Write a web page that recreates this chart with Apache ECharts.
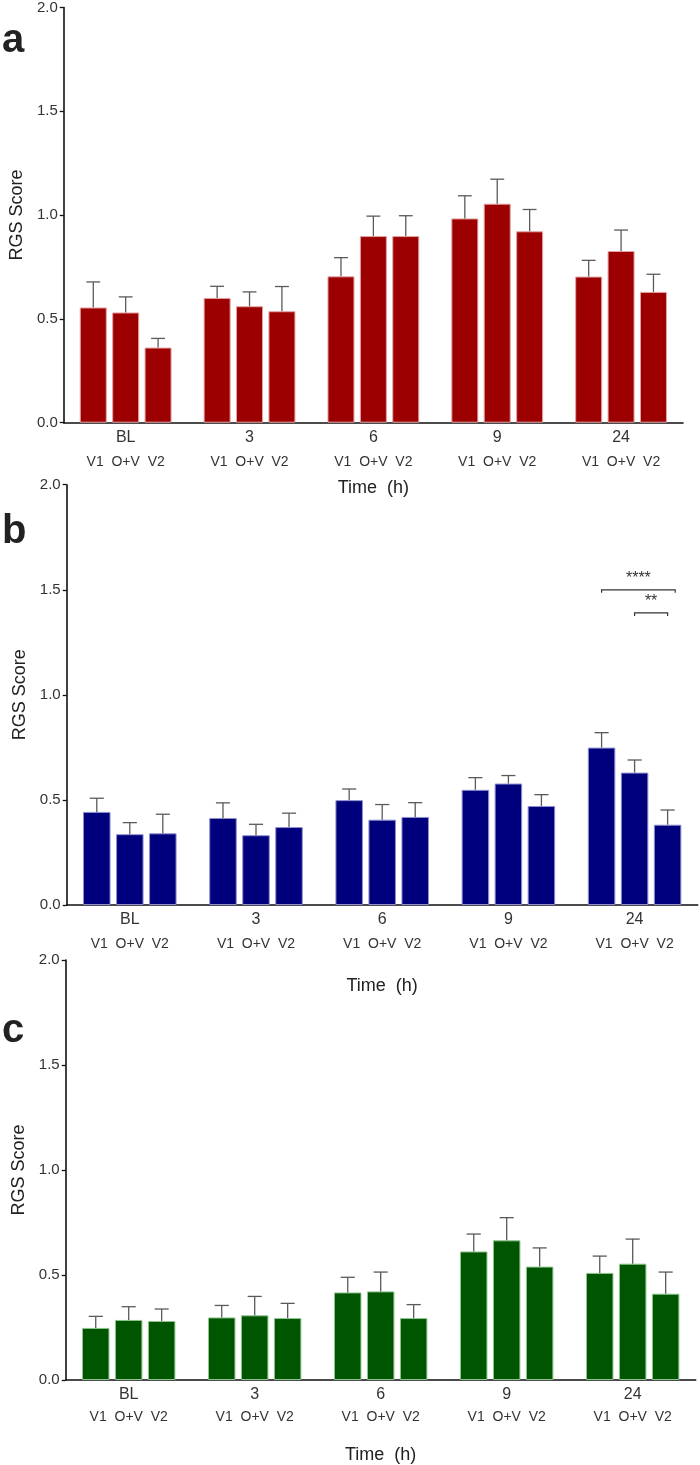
<!DOCTYPE html>
<html>
<head>
<meta charset="utf-8">
<script src="https://cdn.jsdelivr.net/npm/echarts@6/dist/echarts.min.js"></script>
<style>html,body{margin:0;padding:0;background:#fff}#chart{width:700px;height:1465px}</style>
</head>
<body>
<div id="chart"></div>
<script>
// ---- data ----
const categories = ['BL', '3', '6', '9', '24'];
const groupLabels = ['V1', 'O+V', 'V2'];
const yTicks = [0, 0.5, 1.0, 1.5, 2.0];

// panel a (means and SEM)
const aV1 = [0.555, 0.601, 0.705, 0.984, 0.704];
const aOV = [0.531, 0.561, 0.899, 1.055, 0.827];
const aV2 = [0.362, 0.537, 0.899, 0.922, 0.630];
const aV1Err = [0.123, 0.056, 0.090, 0.109, 0.078];
const aOVErr = [0.075, 0.069, 0.096, 0.118, 0.101];
const aV2Err = [0.044, 0.119, 0.098, 0.105, 0.085];

// panel b
const bV1 = [0.443, 0.414, 0.499, 0.548, 0.749];
const bOV = [0.337, 0.332, 0.406, 0.578, 0.630];
const bV2 = [0.341, 0.371, 0.419, 0.471, 0.382];
const bV1Err = [0.065, 0.072, 0.053, 0.058, 0.071];
const bOVErr = [0.055, 0.052, 0.072, 0.038, 0.060];
const bV2Err = [0.091, 0.066, 0.068, 0.054, 0.070];

// panel c
const cV1 = [0.248, 0.298, 0.417, 0.612, 0.510];
const cOV = [0.286, 0.308, 0.422, 0.665, 0.554];
const cV2 = [0.281, 0.295, 0.295, 0.540, 0.411];
const cV1Err = [0.055, 0.057, 0.072, 0.083, 0.080];
const cOVErr = [0.063, 0.090, 0.092, 0.108, 0.117];
const cV2Err = [0.057, 0.070, 0.064, 0.089, 0.103];

// significance brackets (panel b)
const sigCat = [4, 4];
const sigFrom = [0, 1];
const sigTo = [2, 2];
const sigY = [1.5, 1.39];
const sigLabel = ['****', '**'];

// ---- layout / style ----
const FONT = "'Liberation Sans', Arial, sans-serif";
const BW = 0.218;   // bar width as fraction of band
const GAP = 0.2;    // gap as fraction of bar width
const CAP = 0.112;  // cap width as fraction of band

const panels = [
  {letter: 'a', color: '#9c0000', border: '#e3a3a3', grid: {left: 57, top: 6.6, right: 17, height: 416.1},
   means: [aV1, aOV, aV2], errs: [aV1Err, aOVErr, aV2Err], yGap: 24, xGap: 56, sub: 24, letterY: 43},
  {letter: 'b', color: '#00007c', border: '#8f8fd0', grid: {left: 66.7, top: 484.7, right: 2.3, height: 420.3},
   means: [bV1, bOV, bV2], errs: [bV1Err, bOVErr, bV2Err], yGap: 33, xGap: 72, sub: 24, letterY: 534},
  {letter: 'c', color: '#005600', border: '#8fc48f', grid: {left: 65.7, top: 960, right: 4.3, height: 420.3},
   means: [cV1, cOV, cV2], errs: [cV1Err, cOVErr, cV2Err], yGap: 32, xGap: 66, sub: 20, letterY: 1033}
];

function errRender(k) {
  return function (params, api) {
    const ci = api.value(0), m = api.value(1), e = api.value(2);
    const base = api.coord([ci, m]);
    const top = api.coord([ci, m + e]);
    const band = api.size([1, 0])[0];
    const x = base[0] + (k - 1) * band * BW * (1 + GAP);
    const half = band * CAP / 2;
    const st = {stroke: '#5a5a5a', lineWidth: 1.3};
    return {type: 'group', children: [
      {type: 'line', shape: {x1: x, y1: base[1], x2: x, y2: top[1]}, style: st},
      {type: 'line', shape: {x1: x - half, y1: top[1], x2: x + half, y2: top[1]}, style: st}
    ]};
  };
}

function sigRender(params, api) {
  const ci = api.value(0), f = api.value(1), t = api.value(2), y = api.value(3);
  const p = api.coord([ci, y]);
  const band = api.size([1, 0])[0];
  const pitch = band * BW * (1 + GAP);
  const x1 = p[0] + (f - 1) * pitch;
  const x2 = p[0] + (t - 1) * pitch + (t - f === 2 ? band * 0.06 : 0);
  const st = {stroke: '#333', lineWidth: 1.2, fill: 'none'};
  return {type: 'group', children: [
    {type: 'polyline', shape: {points: [[x1, p[1] + 3], [x1, p[1]], [x2, p[1]], [x2, p[1] + 3]]}, style: st},
    {type: 'text', style: {text: sigLabel[params.dataIndex], x: (x1 + x2) / 2, y: p[1] - 3,
      align: 'center', verticalAlign: 'bottom', fontSize: 16, fill: '#333', fontFamily: FONT}}
  ]};
}

const option = {
  animation: false,
  backgroundColor: '#fff',
  textStyle: {fontFamily: FONT},
  grid: [], xAxis: [], yAxis: [], series: [], graphic: []
};

panels.forEach((p, gi) => {
  option.grid.push(p.grid);
  option.xAxis.push({
    type: 'category', gridIndex: gi, data: categories,
    name: 'Time  (h)', nameLocation: 'middle', nameGap: p.xGap,
    nameTextStyle: {fontSize: 18, color: '#222', fontFamily: FONT},
    axisLine: {lineStyle: {color: '#111', width: 1.6}},
    axisTick: {alignWithLabel: true, length: 4, lineStyle: {color: '#111', width: 1.3}},
    axisLabel: {
      margin: 3, interval: 0,
      formatter: v => '{c|' + v + '}\n{s|' + groupLabels.join('  ') + '}',
      rich: {
        c: {fontSize: 16, lineHeight: 24, color: '#333', fontFamily: FONT},
        s: {fontSize: 14, lineHeight: p.sub, color: '#333', fontFamily: FONT}
      }
    }
  });
  option.yAxis.push({
    type: 'value', gridIndex: gi, min: yTicks[0], max: yTicks[yTicks.length - 1], interval: 0.5,
    name: 'RGS Score', nameLocation: 'middle', nameGap: p.yGap,
    nameTextStyle: {fontSize: 18, color: '#222', fontFamily: FONT},
    axisLine: {show: true, lineStyle: {color: '#111', width: 1.6}},
    axisTick: {show: true, length: 4, lineStyle: {color: '#111', width: 1.3}},
    axisLabel: {margin: 6, fontSize: 15, color: '#333', fontFamily: FONT, formatter: v => v.toFixed(1)},
    splitLine: {show: false}
  });
  p.means.forEach((arr, k) => {
    option.series.push({
      type: 'bar', xAxisIndex: gi, yAxisIndex: gi, data: arr,
      barWidth: (BW * 100) + '%', barGap: (GAP * 100) + '%',
      itemStyle: {color: p.color, borderColor: p.border, borderWidth: 1},
      emphasis: {disabled: true}
    });
  });
  p.means.forEach((arr, k) => {
    option.series.push({
      type: 'custom', xAxisIndex: gi, yAxisIndex: gi,
      data: arr.map((m, i) => [i, m, p.errs[k][i]]),
      renderItem: errRender(k), z: 5, silent: true
    });
  });
  option.graphic.push({
    type: 'text', left: 2, top: p.letterY - 22,
    style: {text: p.letter, fontSize: 40, fontWeight: 'bold', fill: '#222', fontFamily: FONT}
  });
});

option.series.push({
  type: 'custom', xAxisIndex: 1, yAxisIndex: 1,
  data: sigCat.map((c, i) => [c, sigFrom[i], sigTo[i], sigY[i]]),
  renderItem: sigRender, z: 6, silent: true
});

const chart = echarts.init(document.getElementById('chart'), null, {renderer: 'canvas'});
chart.setOption(option);
</script>
</body>
</html>
